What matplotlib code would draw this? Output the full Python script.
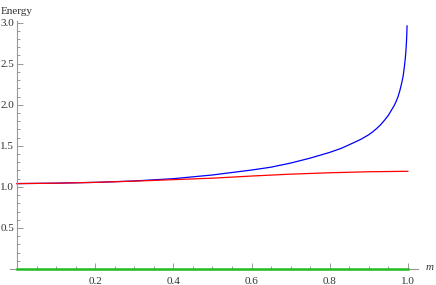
import matplotlib

matplotlib.use("Agg")
import matplotlib.pyplot as plt
from matplotlib.ticker import MultipleLocator

# values
blue_m = [0.0, 0.1, 0.2, 0.3, 0.4, 0.5, 0.55, 0.6, 0.65, 0.7, 0.75, 0.8,
          0.83, 0.86, 0.88, 0.9, 0.91, 0.92, 0.93, 0.94, 0.95, 0.96, 0.965,
          0.97, 0.975, 0.98, 0.985, 0.988, 0.99, 0.992, 0.993, 0.995,
          0.9965, 0.9975, 0.998]
blue_e = [1.04, 1.045, 1.055, 1.072, 1.10, 1.145, 1.175, 1.205, 1.24, 1.29,
          1.35, 1.42, 1.47, 1.535, 1.58, 1.635, 1.67, 1.71, 1.755, 1.81,
          1.87, 1.95, 1.99, 2.04, 2.10, 2.18, 2.28, 2.35, 2.42, 2.50, 2.54,
          2.65, 2.77, 2.88, 2.96]

red_m = [0.0, 0.1, 0.2, 0.3, 0.4, 0.5, 0.6, 0.7, 0.8, 0.9, 1.0]
red_e = [1.04, 1.045, 1.055, 1.07, 1.088, 1.106, 1.132, 1.155, 1.172, 1.184, 1.19]

green_m = [0.0, 1.0]
green_e = [0.0, 0.0]

AX_COLOR = "#999999"

plt.rcParams["font.family"] = "serif"
plt.rcParams["font.serif"] = ["Liberation Serif", "DejaVu Serif"]

fig = plt.figure(figsize=(4.36, 2.85), dpi=100)
ax = fig.add_axes([10 / 436, 16 / 285, 408 / 436, 248 / 285])

ax.plot(blue_m, blue_e, color="#0000ff", lw=0.9)
ax.plot(red_m, red_e, color="#ff0000", lw=0.9)
ax.plot(green_m, green_e, color="#22bb22", lw=1.8, zorder=5, clip_on=False)

ax.set_xlim(-0.018, 1.026)
ax.set_ylim(0, 3.02)

for s in ("top", "right"):
    ax.spines[s].set_visible(False)
ax.spines["left"].set_position(("data", 0))
ax.spines["bottom"].set_position(("data", 0))
for s in ("left", "bottom"):
    ax.spines[s].set_color(AX_COLOR)
    ax.spines[s].set_linewidth(0.8)

ax.xaxis.set_minor_locator(MultipleLocator(0.05))
ax.yaxis.set_minor_locator(MultipleLocator(0.1))
ax.set_xticks([0.2, 0.4, 0.6, 0.8, 1.0])
ax.set_xticklabels(["0.2", "0.4", "0.6", "0.8", "1.0"])
ax.set_yticks([0.5, 1.0, 1.5, 2.0, 2.5, 3.0])
ax.set_yticklabels(["0.5", "1.0", "1.5", "2.0", "2.5", "3.0"])

ax.tick_params(which="both", direction="in", color=AX_COLOR, width=0.7,
               labelsize=8, labelcolor="#333333")
ax.tick_params(which="major", length=4.5)
ax.tick_params(which="minor", length=2.5)
ax.tick_params(axis="x", pad=6)
ax.tick_params(axis="y", pad=2)

fig.text(1 / 436, 1 - 12 / 285, "Energy", fontsize=8, color="#333333",
         va="center", ha="left")
fig.text(426 / 436, 1 - 268 / 285, "m", fontsize=8, style="italic",
         color="#333333", va="center", ha="left")

fig.savefig("out.png", dpi=100, facecolor="white")
